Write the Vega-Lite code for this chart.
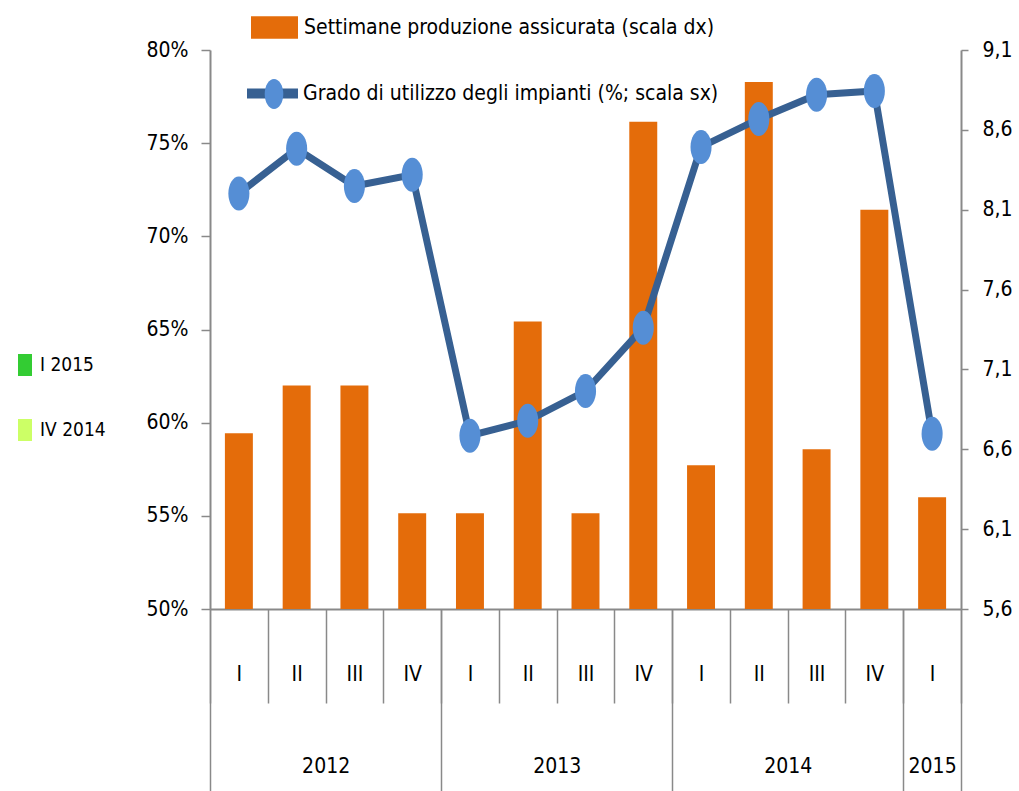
{
  "$schema": "https://vega.github.io/schema/vega-lite/v6.json",
  "width": 751,
  "height": 559,
  "autosize": {"type": "none"},
  "padding": {"left": 210, "top": 50, "right": 58, "bottom": 182},
  "background": "white",
  "config": {
    "font": "Liberation Sans Narrow, DejaVu Sans Condensed, sans-serif",
    "view": {"stroke": null},
    "axis": {
      "labelFont": "Liberation Sans Narrow, DejaVu Sans Condensed, sans-serif",
      "labelFontSize": 21,
      "labelColor": "#000000",
      "domainColor": "#898989",
      "domainWidth": 2,
      "tickColor": "#898989",
      "tickWidth": 1.5,
      "grid": false,
      "title": null
    },
    "legend": {
      "labelFont": "Liberation Sans Narrow, DejaVu Sans Condensed, sans-serif",
      "labelColor": "#000000",
      "labelLimit": 1000,
      "title": null,
      "symbolOpacity": 1
    }
  },
  "datasets": {
    "trimestri": [
      {"periodo": "2012-I", "settimane": 6.7, "grado": 72.3},
      {"periodo": "2012-II", "settimane": 7.0, "grado": 74.7},
      {"periodo": "2012-III", "settimane": 7.0, "grado": 72.7},
      {"periodo": "2012-IV", "settimane": 6.2, "grado": 73.3},
      {"periodo": "2013-I", "settimane": 6.2, "grado": 59.3},
      {"periodo": "2013-II", "settimane": 7.4, "grado": 60.1},
      {"periodo": "2013-III", "settimane": 6.2, "grado": 61.7},
      {"periodo": "2013-IV", "settimane": 8.65, "grado": 65.1},
      {"periodo": "2014-I", "settimane": 6.5, "grado": 74.8},
      {"periodo": "2014-II", "settimane": 8.9, "grado": 76.3},
      {"periodo": "2014-III", "settimane": 6.6, "grado": 77.6},
      {"periodo": "2014-IV", "settimane": 8.1, "grado": 77.8},
      {"periodo": "2015-I", "settimane": 6.3, "grado": 59.4}
    ],
    "legenda": [
      {"serie": "I 2015"},
      {"serie": "IV 2014"}
    ]
  },
  "data": {"name": "trimestri"},
  "layer": [
    {
      "mark": {"type": "bar", "width": {"band": 0.484}},
      "encoding": {
        "x": {
          "field": "periodo",
          "type": "nominal",
          "sort": null,
          "scale": {"paddingInner": 0, "paddingOuter": 0},
          "axis": {
            "orient": "bottom",
            "labelExpr": "split(datum.value, '-')[1]",
            "labelAngle": 0,
            "labelBaseline": "middle",
            "labelPadding": -29,
            "tickBand": "extent",
            "tickSize": 94
          }
        },
        "y": {
          "field": "settimane",
          "type": "quantitative",
          "scale": {"domain": [5.6, 9.1], "zero": false, "nice": false},
          "axis": {
            "orient": "right",
            "values": [5.6, 6.1, 6.6, 7.1, 7.6, 8.1, 8.6, 9.1],
            "labelExpr": "replace(format(datum.value, '.1f'), '.', ',')",
            "tickSize": 7,
            "labelPadding": 14
          }
        },
        "y2": {"datum": 5.6},
        "color": {
          "datum": "Settimane produzione assicurata (scala dx)",
          "scale": {"range": ["#E46C0A"]},
          "legend": {
            "orient": "none",
            "legendX": 40,
            "legendY": -47,
            "symbolType": "M-1,-0.478H1V0.478H-1Z",
            "symbolSize": 2209,
            "labelFontSize": 21,
            "labelOffset": 5
          }
        }
      }
    },
    {
      "mark": {"type": "line", "strokeWidth": 7},
      "encoding": {
        "x": {
          "field": "periodo",
          "type": "nominal",
          "sort": null,
          "axis": {
            "orient": "bottom",
            "domain": false,
            "tickBand": "extent",
            "tickSize": 182,
            "tickOpacity": {
              "condition": {"test": "datum.extra || indexof(['2012-IV','2013-IV','2014-IV','2015-I'], datum.value) >= 0", "value": 1},
              "value": 0
            },
            "labelExpr": "indexof(['2012-II','2013-II','2014-II','2015-I'], datum.value) >= 0 ? split(datum.value, '-')[0] : ''",
            "labelOffset": {
              "condition": {"test": "datum.value == '2015-I'", "value": 0},
              "value": 29
            },
            "labelAngle": 0,
            "labelBaseline": "middle",
            "labelPadding": -25
          }
        },
        "y": {
          "field": "grado",
          "type": "quantitative",
          "scale": {"domain": [50, 80], "zero": false, "nice": false},
          "axis": {
            "orient": "left",
            "values": [50, 55, 60, 65, 70, 75, 80],
            "labelExpr": "datum.value + '%'",
            "tickSize": 9,
            "labelPadding": 13
          }
        },
        "stroke": {
          "datum": "Grado di utilizzo degli impianti (%; scala sx)",
          "scale": {"range": ["#376092"]},
          "legend": {
            "orient": "none",
            "legendX": 32,
            "legendY": 13,
            "symbolType": "stroke",
            "symbolSize": 2601,
            "symbolStrokeWidth": 10,
            "labelFontSize": 21,
            "labelOffset": 0
          }
        }
      }
    },
    {
      "mark": {"type": "point", "filled": true, "opacity": 1, "shape": "M0,-1A0.62,1,0,1,1,0,1A0.62,1,0,1,1,0,-1Z", "size": 1156},
      "encoding": {
        "x": {"field": "periodo", "type": "nominal", "sort": null, "axis": null},
        "y": {
          "field": "grado",
          "type": "quantitative",
          "scale": {"domain": [50, 80], "zero": false, "nice": false},
          "axis": null
        },
        "fill": {
          "datum": "Grado di utilizzo degli impianti",
          "scale": {"range": ["#558ED5"]},
          "legend": {
            "orient": "none",
            "legendX": 48,
            "legendY": 28,
            "symbolType": "M0,-1A0.62,1,0,1,1,0,1A0.62,1,0,1,1,0,-1Z",
            "symbolSize": 900,
            "labelFontSize": 21,
            "labelExpr": "''"
          }
        }
      }
    },
    {
      "data": {"name": "legenda"},
      "mark": {"type": "point", "filled": true, "opacity": 0},
      "encoding": {
        "color": {
          "field": "serie",
          "type": "nominal",
          "scale": {"domain": ["I 2015", "IV 2014"], "range": ["#33CC33", "#CCFF66"]},
          "legend": {
            "orient": "none",
            "legendX": -197,
            "legendY": 303,
            "symbolType": "M-0.636,-1H0.636V1H-0.636Z",
            "symbolSize": 484,
            "labelFontSize": 19,
            "labelOffset": 3,
            "rowPadding": 42
          }
        }
      }
    }
  ],
  "resolve": {
    "scale": {"y": "independent", "color": "independent"},
    "axis": {"x": "independent"}
  }
}
